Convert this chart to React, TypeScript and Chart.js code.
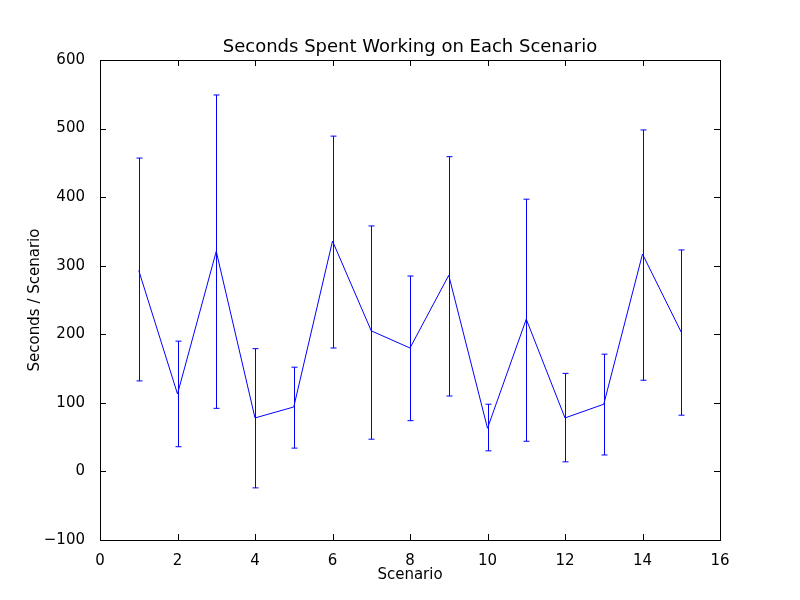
import { useEffect, useRef } from "react"
import { Chart, registerables } from "chart.js"

Chart.register(...registerables)

const scenarios = [1, 2, 3, 4, 5, 6, 7, 8, 9, 10, 11, 12, 13, 14, 15]
const meanSeconds = [293, 113, 321, 78, 94, 336, 205, 180, 286, 63, 222, 78, 98, 317, 203]
const upperSeconds = [457, 190, 549, 179, 152, 489, 358, 285, 459, 98, 397, 143, 171, 498, 323]
const lowerSeconds = [132, 36, 92, -24, 34, 180, 47, 74, 110, 30, 44, 14, 24, 133, 82]

const chartTitle = "Seconds Spent Working on Each Scenario"
const xTitle = "Scenario"
const yTitle = "Seconds / Scenario"

const FONT = "'DejaVu Sans', sans-serif"

// error bars, frame, inward ticks and titles, matplotlib style
const framePlugin = {
  id: "frame",
  afterDatasetsDraw(chart: any) {
    const { ctx, chartArea: a, scales } = chart
    const x = scales.x
    const y = scales.y
    ctx.save()
    ctx.strokeStyle = "#0000ff"
    ctx.lineWidth = 1
    scenarios.forEach((s, i) => {
      const px = Math.round(x.getPixelForValue(s)) + 0.5
      const top = y.getPixelForValue(upperSeconds[i])
      const bot = y.getPixelForValue(lowerSeconds[i])
      ctx.beginPath()
      ctx.moveTo(px, top)
      ctx.lineTo(px, bot)
      ctx.moveTo(px - 3, top)
      ctx.lineTo(px + 3, top)
      ctx.moveTo(px - 3, bot)
      ctx.lineTo(px + 3, bot)
      ctx.stroke()
    })
    ctx.strokeStyle = "#000"
    ctx.strokeRect(a.left + 0.5, a.top + 0.5, a.right - a.left, a.bottom - a.top)
    ctx.beginPath()
    x.ticks.forEach((t: any) => {
      const px = Math.round(x.getPixelForValue(t.value)) + 0.5
      ctx.moveTo(px, a.bottom)
      ctx.lineTo(px, a.bottom - 6)
      ctx.moveTo(px, a.top)
      ctx.lineTo(px, a.top + 6)
    })
    y.ticks.forEach((t: any) => {
      const py = Math.round(y.getPixelForValue(t.value)) + 0.5
      ctx.moveTo(a.left, py)
      ctx.lineTo(a.left + 6, py)
      ctx.moveTo(a.right, py)
      ctx.lineTo(a.right - 6, py)
    })
    ctx.stroke()

    const cx = (a.left + a.right) / 2
    ctx.fillStyle = "#000"
    ctx.textAlign = "center"
    ctx.textBaseline = "middle"
    ctx.font = `18px ${FONT}`
    ctx.fillText(chartTitle, cx, 47)
    ctx.font = `15px ${FONT}`
    ctx.fillText(xTitle, cx, 575)
    ctx.translate(35, (a.top + a.bottom) / 2)
    ctx.rotate(-Math.PI / 2)
    ctx.fillText(yTitle, 0, 0)
    ctx.restore()
  },
}

export default function App() {
  const chartRef = useRef<HTMLCanvasElement>(null)
  const chartInstance = useRef<Chart | null>(null)

  useEffect(() => {
    document.body.style.margin = "0"
    if (!chartRef.current) return
    if (chartInstance.current) chartInstance.current.destroy()

    chartInstance.current = new Chart(chartRef.current, {
      type: "line",
      data: {
        datasets: [
          {
            data: scenarios.map((s, i) => ({ x: s, y: meanSeconds[i] })),
            borderColor: "#0000ff",
            borderWidth: 1,
            pointRadius: 0,
            tension: 0,
            fill: false,
          },
        ],
      },
      options: {
        animation: false,
        responsive: false,
        layout: { padding: { left: 0, right: 80, top: 60, bottom: 0 } },
        plugins: {
          legend: { display: false },
          tooltip: { enabled: false },
          title: { display: false },
        },
        scales: {
          x: {
            type: "linear",
            min: 0,
            max: 16,
            afterFit: (s: any) => { s.height = 60 },
            grid: { display: false },
            border: { display: false },
            ticks: { stepSize: 2, color: "#000", padding: 4, font: { family: FONT, size: 15 } },
          },
          y: {
            min: -100,
            max: 600,
            afterFit: (s: any) => { s.width = 100 },
            grid: { display: false },
            border: { display: false },
            ticks: {
              stepSize: 100,
              color: "#000",
              padding: 7,
              font: { family: FONT, size: 15 },
              callback: (v: any) => String(v).replace("-", "\u2212"),
            },
          },
        },
      },
      plugins: [framePlugin],
    } as any)

    return () => {
      if (chartInstance.current) chartInstance.current.destroy()
    }
  }, [])

  return (
    <div style={{ width: 800, height: 600, background: "#fff" }}>
      <canvas ref={chartRef} width={800} height={600} />
    </div>
  )
}
